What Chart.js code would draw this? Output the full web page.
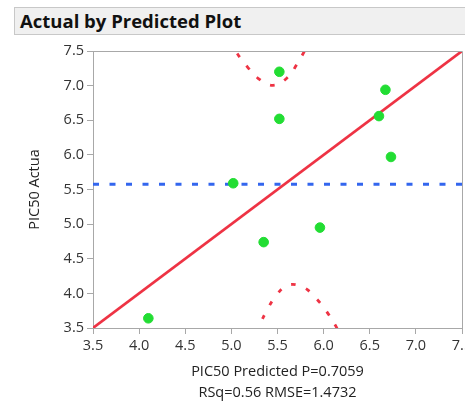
<!DOCTYPE html>
<html>
<head>
<meta charset="utf-8">
<script src="https://cdn.jsdelivr.net/npm/chart.js@4/dist/chart.umd.min.js"></script>
<style>
  html, body { margin: 0; padding: 0; background: #fff; overflow: hidden; width: 465px; height: 404px; }
  #titlebar {
    position: absolute; left: 14px; top: 7px; width: 460px; height: 28px;
    background: #f0f0f0; border: 1px solid #c8c8c8; box-sizing: border-box;
    font-family: "Open Sans", "Noto Sans", sans-serif; font-weight: bold; font-size: 18.5px;
    color: #111; line-height: 25px; padding-left: 5px;
  }
  #wrap { position: absolute; left: 0; top: 0; width: 490px; height: 404px; }
</style>
</head>
<body>
<div id="wrap"><canvas id="c" width="490" height="404"></canvas></div>
<div id="titlebar">Actual by Predicted Plot</div>
<script>
// ---- data ----
const predicted = [4.10, 5.02, 5.35, 5.52, 5.52, 5.96, 6.60, 6.67, 6.73];
const actual    = [3.64, 5.59, 4.74, 7.20, 6.52, 4.95, 6.56, 6.94, 5.97];
const meanActual = 5.575;
const fitX = [3.5, 7.5];
const fitY = [3.5, 7.5];
const upperX = [4.98, 5.058, 5.169, 5.289, 5.451, 5.603, 5.711, 5.791, 5.86];
const upperY = [7.66, 7.475, 7.279, 7.106, 7.005, 7.110, 7.308, 7.496, 7.68];
const lowerX = [5.26, 5.303, 5.383, 5.476, 5.61, 5.78, 5.917, 6.029, 6.127, 6.17];
const lowerY = [3.43, 3.539, 3.75, 3.952, 4.117, 4.088, 3.929, 3.745, 3.539, 3.43];
const xTicks = [3.5, 4.0, 4.5, 5.0, 5.5, 6.0, 6.5, 7.0, 7.5];
const yTicks = [3.5, 4.0, 4.5, 5.0, 5.5, 6.0, 6.5, 7.0, 7.5];
const xTitle = ["PIC50 Predicted P=0.7059", "RSq=0.56 RMSE=1.4732"];
const yTitle = "PIC50 Actua";

const zip = (xs, ys) => xs.map((x, i) => ({x, y: ys[i]}));

const frame = {
  id: 'frame',
  afterDatasetsDraw(chart) {
    const a = chart.chartArea, ctx = chart.ctx;
    ctx.save();
    ctx.strokeStyle = '#a8a8a8';
    ctx.lineWidth = 1;
    ctx.beginPath();
    ctx.moveTo(a.left, a.top + 0.5); ctx.lineTo(a.right + 0.5, a.top + 0.5);
    ctx.lineTo(a.right + 0.5, a.bottom);
    ctx.stroke();
    ctx.restore();
  }
};

const font = { family: '"Open Sans", "Noto Sans", sans-serif', size: 14.5 };
const titleFont = { family: '"Open Sans", "Noto Sans", sans-serif', size: 14.5, lineHeight: 1.5 };

new Chart(document.getElementById('c'), {
  type: 'scatter',
  data: {
    datasets: [
      { data: predicted.map((x, i) => ({x, y: actual[i]})), backgroundColor: '#22dd33', borderColor: '#22dd33',
        pointRadius: 4.8, pointHoverRadius: 4.8, order: 0 },
      { data: zip(fitX, fitY), showLine: true, borderColor: '#ee3344', borderWidth: 2.6, pointRadius: 0, order: 1 },
      { data: zip(upperX, upperY), showLine: true, borderColor: '#ee3344', borderWidth: 2.8, borderDash: [4.5, 11],
        pointRadius: 0, tension: 0.4, order: 2 },
      { data: zip(lowerX, lowerY), showLine: true, borderColor: '#ee3344', borderWidth: 2.8, borderDash: [4.5, 11],
        pointRadius: 0, tension: 0.4, order: 2 },
      { data: [{x: 3.5, y: meanActual}, {x: 7.5, y: meanActual}], showLine: true, borderColor: '#3366ee',
        borderWidth: 3, borderDash: [6, 10.5], pointRadius: 0, order: 3 }
    ]
  },
  options: {
    animation: false,
    responsive: false,
    events: [],
    layout: { padding: { left: 0, top: 51, right: 28, bottom: 0 } },
    plugins: { legend: { display: false }, tooltip: { enabled: false } },
    scales: {
      x: {
        type: 'linear', min: 3.5, max: 7.5,
        afterBuildTicks: s => { s.ticks = xTicks.map(v => ({value: v})); },
        afterFit: s => { s.height = 76; },
        ticks: { font, color: '#333', padding: 3, callback: v => v.toFixed(1), maxRotation: 0, autoSkip: false },
        grid: { drawOnChartArea: false, drawTicks: true, tickLength: 6, color: '#a8a8a8' },
        border: { color: '#a8a8a8' },
        title: { display: true, text: xTitle, font: titleFont, color: '#222', padding: { top: 0, bottom: 0 } }
      },
      y: {
        type: 'linear', min: 3.5, max: 7.5,
        afterBuildTicks: s => { s.ticks = yTicks.map(v => ({value: v})); },
        afterFit: s => { s.width = 93; },
        ticks: { font, color: '#333', padding: 3, callback: v => v.toFixed(1), autoSkip: false },
        grid: { drawOnChartArea: false, drawTicks: true, tickLength: 6, color: '#a8a8a8' },
        border: { color: '#a8a8a8' },
        title: { display: true, text: yTitle, font, color: '#222', padding: { top: 26, bottom: 0 } }
      }
    }
  },
  plugins: [frame]
});
</script>
</body>
</html>
